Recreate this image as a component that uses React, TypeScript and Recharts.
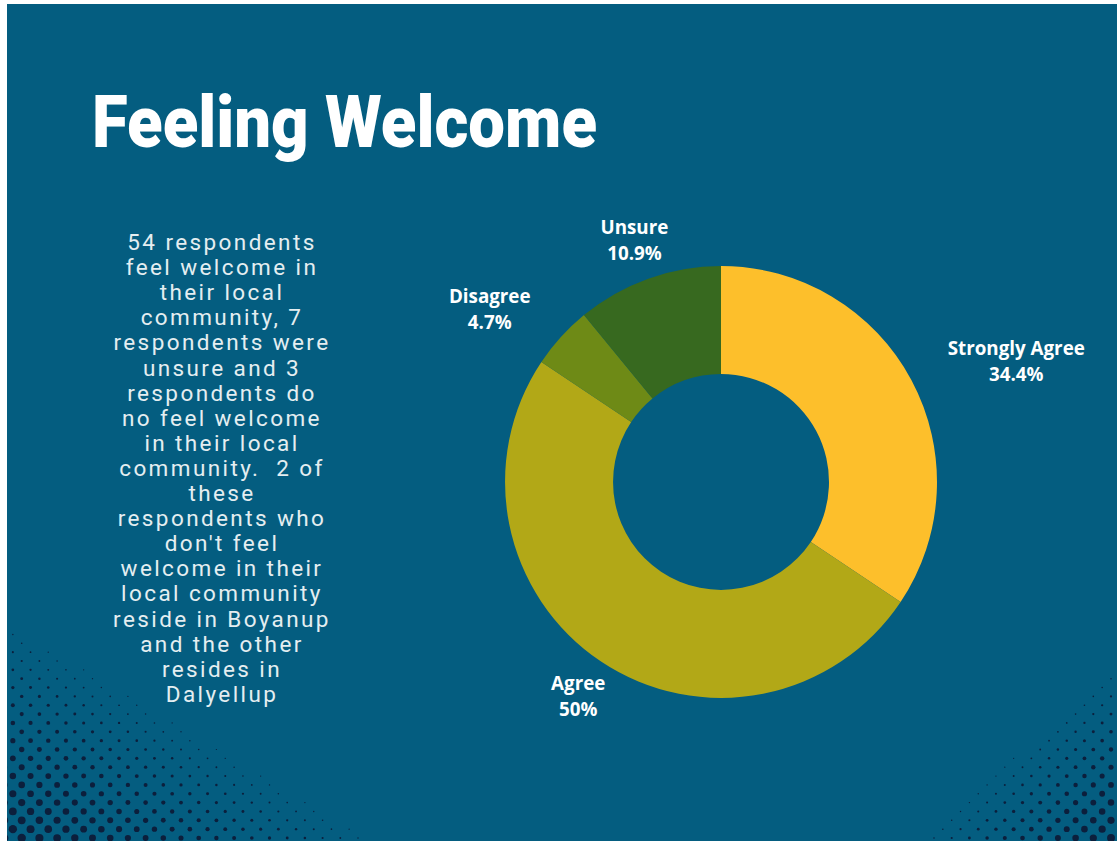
import React from "react";
import { PieChart, Pie, Cell } from "recharts";

const categories = ["Strongly Agree", "Agree", "Disagree", "Unsure"];
const counts = [22, 32, 3, 7];
const colors = ["#FDBF2B", "#B2A817", "#6E8A16", "#37691F"];

const titleText = "Feeling Welcome";
const paragraphLines = [
  "54 respondents",
  "feel welcome in",
  "their local",
  "community, 7",
  "respondents were",
  "unsure and 3",
  "respondents do",
  "no feel welcome",
  "in their local",
  "community.  2 of",
  "these",
  "respondents who",
  "don't feel",
  "welcome in their",
  "local community",
  "reside in Boyanup",
  "and the other",
  "resides in",
  "Dalyellup",
];

const data = categories.map((name, i) => ({ name, value: counts[i] }));

const W = 1117;
const H = 841;
const BG = "#045D80";
const RADIAN = Math.PI / 180;
const LABEL_FONT_SIZE = 18.8;
const LABEL_FONT = `700 ${LABEL_FONT_SIZE}px 'Open Sans', sans-serif`;

function fmtPct(p: number) {
  const s = (p * 100).toFixed(1);
  return (s.endsWith(".0") ? s.slice(0, -2) : s) + "%";
}

let measureCtx: CanvasRenderingContext2D | null = null;
function measure(text: string) {
  if (!measureCtx && typeof document !== "undefined") {
    measureCtx = document.createElement("canvas").getContext("2d");
  }
  if (!measureCtx) return text.length * LABEL_FONT_SIZE * 0.58;
  measureCtx.font = LABEL_FONT;
  return measureCtx.measureText(text).width;
}

function renderLabel(props: any) {
  const { cx, cy, midAngle, outerRadius, percent, name } = props;
  const r = outerRadius + 41;
  const cos = Math.cos(-midAngle * RADIAN);
  const sin = Math.sin(-midAngle * RADIAN);
  const x = cx + r * cos;
  const y = cy + r * sin;
  const pct = fmtPct(percent);
  const bw = Math.max(measure(name), measure(pct));
  const bx = cos > 0.65 ? x + bw / 2 : cos < -0.65 ? x - bw / 2 : x;
  const style = {
    fontFamily: "'Open Sans', sans-serif",
    fontWeight: 700,
    fontSize: LABEL_FONT_SIZE,
    fill: "#FFFFFF",
  } as React.CSSProperties;
  return (
    <g>
      <text x={bx} y={y - 13} textAnchor="middle" dominantBaseline="central" style={style}>
        {name}
      </text>
      <text x={bx} y={y + 13} textAnchor="middle" dominantBaseline="central" style={style}>
        {pct}
      </text>
    </g>
  );
}

function Dots() {
  const items: React.ReactNode[] = [];
  const rowStep = 8.85;
  const colStep = 17.7;
  // bottom-left halftone
  for (let row = 0; row * rowStep < 270; row++) {
    const y = H - 3 - row * rowStep;
    const off = row % 2 === 0 ? 0 : colStep / 2;
    for (let col = 0; col * colStep < 440; col++) {
      const x = 4 + off + col * colStep;
      const t = x / 430 + (H - y) / 255;
      const r = 4.5 * (1 - t);
      if (r > 0.6) items.push(<circle key={`l${row}-${col}`} cx={x} cy={y} r={r} fill="#0C1F3C" />);
    }
  }
  // bottom-right halftone
  for (let row = 0; row * rowStep < 220; row++) {
    const y = H - 3 - row * rowStep;
    const off = row % 2 === 0 ? 0 : colStep / 2;
    for (let col = 0; col * colStep < 260; col++) {
      const x = W - 6 - off - col * colStep;
      const t = (W - x) / 230 + (H - y) / 205;
      const r = 4.1 * (1 - t);
      if (r > 0.6) items.push(<circle key={`r${row}-${col}`} cx={x} cy={y} r={r} fill="#0C1F3C" />);
    }
  }
  return (
    <svg width={W} height={H} style={{ position: "absolute", left: 0, top: 0 }}>
      <defs>
        <clipPath id="bgclip">
          <rect x={7} y={4} width={W - 7} height={H - 4} />
        </clipPath>
      </defs>
      <g clipPath="url(#bgclip)">{items}</g>
    </svg>
  );
}

export default function App() {
  return (
    <div style={{ position: "absolute", left: 0, top: 0, width: W, height: H, background: "#FFFFFF", overflow: "hidden" }}>
      <div style={{ position: "absolute", left: 7, top: 4, width: W - 7, height: H - 4, background: BG }} />
      <Dots />
      <div style={{ position: "absolute", left: 0, top: 0 }}>
        <PieChart width={W} height={H} margin={{ top: 0, right: 0, bottom: 0, left: 0 }}>
          <Pie
            data={data}
            dataKey="value"
            nameKey="name"
            cx={721}
            cy={482}
            innerRadius={108}
            outerRadius={216}
            startAngle={90}
            endAngle={-270}
            stroke="none"
            label={renderLabel}
            labelLine={false}
            isAnimationActive={false}
          >
            {data.map((d, i) => (
              <Cell key={d.name} fill={colors[i]} />
            ))}
          </Pie>
        </PieChart>
      </div>
      <svg width={W} height={H} style={{ position: "absolute", left: 0, top: 0, pointerEvents: "none" }}>
        <text
          x={92}
          y={147}
          textLength={505}
          lengthAdjust="spacingAndGlyphs"
          style={{ fontFamily: "Roboto, sans-serif", fontWeight: 900, fontSize: 72, fill: "#FFFFFF" }}
        >
          {titleText}
        </text>
        {paragraphLines.map((line, i) => (
          <text
            key={i}
            x={222}
            y={250 + i * 25.1}
            textAnchor="middle"
            style={{
              fontFamily: "Roboto, sans-serif",
              fontWeight: 400,
              fontSize: 22.5,
              letterSpacing: 2.4,
              fill: "#E4EEF1",
              whiteSpace: "pre",
            }}
          >
            {line}
          </text>
        ))}
      </svg>
    </div>
  );
}
